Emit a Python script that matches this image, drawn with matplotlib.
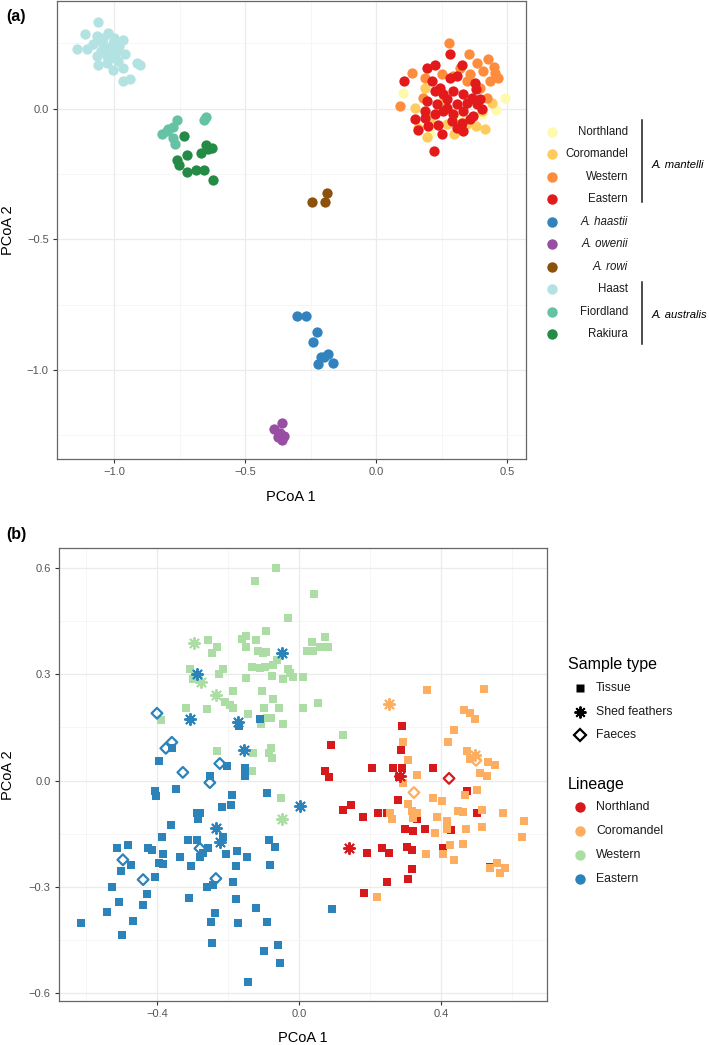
import matplotlib.pyplot as plt
from matplotlib.lines import Line2D

plt.rcParams['font.family'] = ['Liberation Sans', 'DejaVu Sans']

W, H = 709, 1045

# ---------------- panel (a) data: PCoA of all kiwi ----------------
haast_x = [-1.061, -1.111, -1.065, -1.023, -1.141, -1.103, -1.053, -1.004, -0.966, -1.027,
           -0.989, -0.958, -1.065, -1.027, -0.996, -1.061, -1.027, -1.004, -0.966, -0.912,
           -0.901, -0.966, -0.939, -1.080, -1.042, -0.985, -1.040, -1.010, -0.980, -1.050, -1.000]
haast_y = [0.332, 0.286, 0.279, 0.290, 0.229, 0.229, 0.260, 0.252, 0.263, 0.233,
           0.221, 0.210, 0.202, 0.202, 0.195, 0.168, 0.176, 0.149, 0.156, 0.176,
           0.168, 0.107, 0.115, 0.248, 0.271, 0.183, 0.240, 0.220, 0.240, 0.220, 0.270]

fiord_x = [-0.760, -0.775, -0.798, -0.817, -0.775, -0.767, -0.649, -0.656, -0.794]
fiord_y = [-0.042, -0.069, -0.084, -0.095, -0.111, -0.134, -0.031, -0.042, -0.076]

rakiura_x = [-0.733, -0.721, -0.760, -0.752, -0.721, -0.687, -0.656, -0.622, -0.668, -0.649, -0.626, -0.641]
rakiura_y = [-0.103, -0.176, -0.195, -0.214, -0.244, -0.233, -0.233, -0.271, -0.168, -0.137, -0.149, -0.153]

rowi_x = [-0.244, -0.195, -0.187]
rowi_y = [-0.355, -0.355, -0.321]

haastii_x = [-0.302, -0.267, -0.225, -0.240, -0.210, -0.183, -0.164, -0.221, -0.198]
haastii_y = [-0.794, -0.794, -0.855, -0.893, -0.950, -0.939, -0.973, -0.977, -0.950]

owenii_x = [-0.359, -0.389, -0.366, -0.351, -0.359, -0.374]
owenii_y = [-1.202, -1.225, -1.240, -1.252, -1.267, -1.256]

north_a_x = [0.103, 0.492, 0.458, 0.405, 0.206, 0.321]
north_a_y = [0.061, 0.042, -0.004, -0.019, -0.092, -0.034]

coro_a_x = [0.149, 0.443, 0.416, 0.382, 0.298, 0.195, 0.271, 0.160, 0.347, 0.206, 0.187, 0.405, 0.256]
coro_a_y = [0.004, 0.023, -0.076, -0.065, -0.095, -0.107, -0.057, -0.073, -0.057, -0.038, 0.080, -0.008, 0.031]

west_a_x = [0.279, 0.137, 0.092, 0.355, 0.427, 0.450, 0.466, 0.385, 0.408, 0.435,
            0.397, 0.347, 0.321, 0.359, 0.294, 0.179, 0.187, 0.424, 0.252, 0.454]
west_a_y = [0.252, 0.137, 0.011, 0.210, 0.191, 0.160, 0.118, 0.176, 0.145, 0.107,
            0.080, 0.107, 0.156, 0.134, 0.126, 0.042, 0.118, 0.042, 0.134, 0.137]

east_a_x = [0.282, 0.107, 0.195, 0.225, 0.328, 0.214, 0.244, 0.282, 0.309, 0.378,
            0.382, 0.225, 0.256, 0.294, 0.332, 0.366, 0.397, 0.195, 0.233, 0.271,
            0.309, 0.347, 0.385, 0.405, 0.187, 0.225, 0.256, 0.294, 0.332, 0.370,
            0.149, 0.187, 0.290, 0.328, 0.359, 0.160, 0.198, 0.237, 0.252, 0.332,
            0.221, 0.309, 0.271]
east_a_y = [0.210, 0.107, 0.156, 0.168, 0.168, 0.107, 0.080, 0.118, 0.126, 0.099,
            0.076, 0.069, 0.057, 0.069, 0.057, 0.042, 0.038, 0.031, 0.019, 0.004,
            0.019, 0.023, 0.019, 0.000, -0.008, -0.019, -0.008, -0.019, -0.008, -0.027,
            -0.038, -0.034, -0.046, -0.053, -0.038, -0.080, -0.065, -0.061, -0.095, -0.084,
            -0.160, -0.073, 0.038]

groups_a = ['Northland', 'Coromandel', 'Western', 'Eastern', 'A. haastii', 'A. owenii',
            'A. rowi', 'Haast', 'Fiordland', 'Rakiura']
colors_a = ['#FFF9AE', '#FECC5C', '#FD8D3C', '#E31A1C', '#3182BD', '#984EA3',
            '#8C510A', '#B2E2E2', '#66C2A4', '#238B45']
data_a = [(north_a_x, north_a_y), (coro_a_x, coro_a_y), (west_a_x, west_a_y), (east_a_x, east_a_y),
          (haastii_x, haastii_y), (owenii_x, owenii_y), (rowi_x, rowi_y),
          (haast_x, haast_y), (fiord_x, fiord_y), (rakiura_x, rakiura_y)]

# ---------------- panel (b) data: A. mantelli lineages ----------------
# Northland
north_tis_x = [0.090, 0.073, 0.085, 0.124, 0.146, 0.290, 0.287, 0.206, 0.265, 0.290,
               0.377, 0.473, 0.279, 0.180, 0.223, 0.248, 0.501, 0.332, 0.299, 0.321,
               0.355, 0.428, 0.234, 0.254, 0.192, 0.304, 0.318, 0.406, 0.318, 0.307,
               0.248, 0.183, 0.282, 0.538]
north_tis_y = [0.099, 0.028, 0.011, -0.082, -0.068, 0.153, 0.085, 0.034, 0.034, 0.034,
               0.034, -0.031, -0.054, -0.102, -0.093, -0.093, -0.091, -0.110, -0.136, -0.142,
               -0.136, -0.139, -0.192, -0.204, -0.204, -0.187, -0.195, -0.190, -0.249, -0.277,
               -0.286, -0.317, 0.011, -0.243]
north_fea_x = [0.285, 0.141]
north_fea_y = [0.014, -0.190]
north_fae_x = [0.423]
north_fae_y = [0.006]

# Coromandel
coro_tis_x = [0.361, 0.521, 0.465, 0.482, 0.496, 0.437, 0.420, 0.293, 0.307, 0.473,
              0.482, 0.532, 0.552, 0.510, 0.530, 0.332, 0.293, 0.501, 0.468, 0.377,
              0.403, 0.307, 0.318, 0.332, 0.321, 0.256, 0.262, 0.448, 0.462, 0.515,
              0.575, 0.634, 0.389, 0.417, 0.417, 0.515, 0.470, 0.383, 0.628, 0.462,
              0.425, 0.358, 0.406, 0.437, 0.538, 0.558, 0.566, 0.580, 0.220]
coro_tis_y = [0.255, 0.260, 0.198, 0.192, 0.173, 0.144, 0.108, 0.108, 0.059, 0.082,
              0.062, 0.051, 0.045, 0.020, 0.014, 0.017, -0.008, -0.028, -0.042, -0.048,
              -0.057, -0.065, -0.085, -0.091, -0.105, -0.091, -0.108, -0.085, -0.088, -0.082,
              -0.093, -0.113, -0.102, -0.113, -0.136, -0.130, -0.136, -0.147, -0.161, -0.178,
              -0.181, -0.209, -0.207, -0.224, -0.246, -0.232, -0.260, -0.246, -0.328]
coro_fea_x = [0.254, 0.496]
coro_fea_y = [0.215, 0.071]
coro_fae_x = [0.324, 0.499]
coro_fae_y = [-0.034, 0.057]

# Western
west_tis_x = [-0.065, -0.124, 0.042, -0.031, -0.256, -0.231, -0.245, -0.161, -0.149, -0.121,
              -0.093, -0.149, -0.115, -0.101, -0.093, 0.037, 0.023, 0.039, 0.059, 0.073,
              0.082, -0.062, -0.073, -0.096, -0.110, -0.132, -0.031, -0.025, -0.017, -0.045,
              -0.076, 0.011, -0.149, -0.225, -0.214, -0.307, -0.299, -0.104, -0.186, -0.208,
              -0.194, -0.186, -0.073, -0.056, -0.099, 0.011, 0.054, -0.318, -0.259, -0.144,
              -0.090, -0.079, -0.045, -0.107, -0.389, 0.124, -0.231, -0.130, -0.079, -0.085,
              -0.076, -0.132, -0.051]
west_tis_y = [0.600, 0.563, 0.526, 0.459, 0.396, 0.376, 0.359, 0.399, 0.408, 0.396,
              0.422, 0.376, 0.365, 0.359, 0.362, 0.391, 0.365, 0.365, 0.376, 0.405,
              0.376, 0.340, 0.326, 0.320, 0.317, 0.320, 0.314, 0.303, 0.292, 0.286,
              0.294, 0.292, 0.289, 0.300, 0.314, 0.314, 0.286, 0.252, 0.252, 0.221,
              0.212, 0.204, 0.229, 0.204, 0.204, 0.204, 0.218, 0.204, 0.201, 0.187,
              0.178, 0.178, 0.161, 0.161, 0.170, 0.130, 0.082, 0.079, 0.093, 0.079,
              0.065, 0.028, -0.048]
west_fea_x = [-0.296, -0.276, -0.234, -0.048]
west_fea_y = [0.388, 0.277, 0.243, -0.108]

# Eastern
east_tis_x = [-0.110, -0.169, -0.358, -0.394, -0.203, -0.152, -0.152, -0.251, -0.346, -0.406,
              -0.403, -0.090, -0.189, -0.192, -0.217, -0.279, -0.287, -0.285, -0.361, -0.386,
              -0.313, -0.287, -0.214, -0.513, -0.482, -0.425, -0.414, -0.085, -0.068, -0.256,
              -0.270, -0.383, -0.335, -0.279, -0.206, -0.175, -0.146, -0.473, -0.501, -0.394,
              -0.383, -0.304, -0.177, -0.082, -0.406, -0.259, -0.242, -0.186, -0.527, -0.428,
              -0.310, -0.177, -0.507, -0.439, -0.541, -0.121, -0.237, -0.468, -0.248, -0.172,
              -0.090, -0.614, -0.499, -0.245, -0.059, -0.099, -0.054, -0.144, 0.093]
east_tis_y = [0.173, 0.153, 0.091, 0.054, 0.042, 0.034, 0.014, 0.014, -0.023, -0.031,
              -0.045, -0.034, -0.042, -0.068, -0.076, -0.091, -0.093, -0.110, -0.125, -0.159,
              -0.167, -0.167, -0.161, -0.190, -0.181, -0.190, -0.195, -0.167, -0.187, -0.192,
              -0.204, -0.209, -0.215, -0.215, -0.207, -0.198, -0.215, -0.238, -0.255, -0.232,
              -0.235, -0.241, -0.241, -0.238, -0.272, -0.300, -0.294, -0.286, -0.300, -0.320,
              -0.331, -0.334, -0.342, -0.351, -0.371, -0.359, -0.374, -0.396, -0.399, -0.402,
              -0.399, -0.402, -0.436, -0.459, -0.464, -0.481, -0.515, -0.569, -0.362]
east_fea_x = [-0.048, -0.287, -0.307, -0.172, -0.155, 0.003, -0.234, -0.223]
east_fea_y = [0.359, 0.300, 0.173, 0.164, 0.085, -0.071, -0.133, -0.173]
east_fae_x = [-0.400, -0.358, -0.375, -0.327, -0.223, -0.251, -0.279, -0.496, -0.439, -0.234]
east_fae_y = [0.190, 0.108, 0.091, 0.023, 0.048, -0.006, -0.192, -0.224, -0.280, -0.277]

lineages_b = ['Northland', 'Coromandel', 'Western', 'Eastern']
colors_b = ['#D7191C', '#FDAE61', '#ABDDA4', '#2B83BA']
sample_types = ['Tissue', 'Shed feathers', 'Faeces']

fig = plt.figure(figsize=(W / 100, H / 100), dpi=100)


def fx(px):
    return px / W


def fy(py):
    return 1 - py / H


def style_axes(ax):
    ax.set_axisbelow(True)
    ax.grid(which='major', color='#EBEBEB', lw=0.9)
    ax.grid(which='minor', color='#F3F3F3', lw=0.5)
    for s in ax.spines.values():
        s.set_color('#666666')
        s.set_linewidth(0.9)
    ax.tick_params(which='major', length=3, width=0.8, color='#333333',
                   labelsize=8, labelcolor='#555555', pad=3)
    ax.tick_params(which='minor', length=0)


# ---------------- panel (a) ----------------
ax1 = fig.add_axes([57 / W, (H - 459) / H, 469 / W, 458 / H])
order_a = [7, 8, 9, 6, 4, 5, 0, 1, 2, 3]
for i in order_a:
    xs, ys = data_a[i]
    ax1.scatter(xs, ys, s=55, color=colors_a[i], linewidths=0, zorder=3)
ax1.set_xlim(-1.218, 0.572)
ax1.set_ylim(-1.34, 0.412)
ax1.set_xticks([-1.0, -0.5, 0.0, 0.5])
ax1.set_yticks([-1.0, -0.5, 0.0])
ax1.set_xticks([-0.75, -0.25, 0.25], minor=True)
ax1.set_yticks([-1.25, -0.75, -0.25, 0.25], minor=True)
style_axes(ax1)
fig.text(fx(291), fy(497), 'PCoA 1', ha='center', va='center', fontsize=10.5)
fig.text(fx(8), fy(230), 'PCoA 2', ha='center', va='center', rotation=90, fontsize=10.5)
fig.text(fx(6), fy(17), '(a)', ha='left', va='center', fontsize=11.5, fontweight='bold')

# legend (a)
leg_y = [132, 154, 177, 199, 222, 244, 267, 289, 312, 334]
for i, name in enumerate(groups_a):
    fig.add_artist(Line2D([fx(552)], [fy(leg_y[i])], marker='o', ls='none', ms=7.5,
                          mfc=colors_a[i], mec='none', transform=fig.transFigure))
    italic = name.startswith('A. ')
    fig.text(fx(628), fy(leg_y[i]), name, ha='right', va='center', fontsize=8.3,
             style='italic' if italic else 'normal', color='#1A1A1A')
fig.add_artist(Line2D([fx(642), fx(642)], [fy(120), fy(202)], color='#1A1A1A', lw=1.1,
                      transform=fig.transFigure))
fig.add_artist(Line2D([fx(642), fx(642)], [fy(282), fy(344)], color='#1A1A1A', lw=1.1,
                      transform=fig.transFigure))
fig.text(fx(652), fy(165), 'A. mantelli', ha='left', va='center', fontsize=8.1, style='italic')
fig.text(fx(652), fy(315), 'A. australis', ha='left', va='center', fontsize=8.1, style='italic')

# ---------------- panel (b) ----------------
ax2 = fig.add_axes([59 / W, (H - 1001) / H, 488 / W, 453 / H])
tis = [(north_tis_x, north_tis_y), (coro_tis_x, coro_tis_y), (west_tis_x, west_tis_y), (east_tis_x, east_tis_y)]
fea = [(north_fea_x, north_fea_y), (coro_fea_x, coro_fea_y), (west_fea_x, west_fea_y), (east_fea_x, east_fea_y)]
fae = [(north_fae_x, north_fae_y), (coro_fae_x, coro_fae_y), ([], []), (east_fae_x, east_fae_y)]
for i in range(4):
    ax2.scatter(tis[i][0], tis[i][1], s=32, marker='s', color=colors_b[i], linewidths=0, zorder=3)
for i in range(4):
    ax2.scatter(fea[i][0], fea[i][1], s=65, marker=(8, 2, 0), c=colors_b[i], linewidths=1.4, zorder=4)
    if fae[i][0]:
        ax2.scatter(fae[i][0], fae[i][1], s=30, marker='D', facecolors='none',
                    edgecolors=colors_b[i], linewidths=1.6, zorder=4)
ax2.set_xlim(-0.676, 0.699)
ax2.set_ylim(-0.623, 0.657)
ax2.set_xticks([-0.4, 0.0, 0.4])
ax2.set_yticks([-0.6, -0.3, 0.0, 0.3, 0.6])
ax2.set_xticks([-0.6, -0.2, 0.2, 0.6], minor=True)
ax2.set_yticks([-0.45, -0.15, 0.15, 0.45], minor=True)
style_axes(ax2)
fig.text(fx(303), fy(1038), 'PCoA 1', ha='center', va='center', fontsize=10.5)
fig.text(fx(8), fy(775), 'PCoA 2', ha='center', va='center', rotation=90, fontsize=10.5)
fig.text(fx(6), fy(535), '(b)', ha='left', va='center', fontsize=11.5, fontweight='bold')

# legend (b)
fig.text(fx(568), fy(665), 'Sample type', ha='left', va='center', fontsize=11.5)
st_y = [688, 712, 735]
st_marker = [dict(marker='s', ms=5.5, mfc='black', mec='none'),
             dict(marker=(8, 2, 0), ms=8.5, mec='black', mew=1.4),
             dict(marker='D', ms=6, mfc='none', mec='black', mew=1.6)]
for i, name in enumerate(sample_types):
    fig.add_artist(Line2D([fx(580)], [fy(st_y[i])], ls='none', transform=fig.transFigure, **st_marker[i]))
    fig.text(fx(596), fy(st_y[i]), name, ha='left', va='center', fontsize=8.8, color='#1A1A1A')
fig.text(fx(568), fy(784), 'Lineage', ha='left', va='center', fontsize=11.5)
ln_y = [807, 831, 855, 879]
for i, name in enumerate(lineages_b):
    fig.add_artist(Line2D([fx(580)], [fy(ln_y[i])], marker='o', ls='none', ms=7.5,
                          mfc=colors_b[i], mec='none', transform=fig.transFigure))
    fig.text(fx(596), fy(ln_y[i]), name, ha='left', va='center', fontsize=8.8, color='#1A1A1A')

fig.savefig('out.png', dpi=100)
